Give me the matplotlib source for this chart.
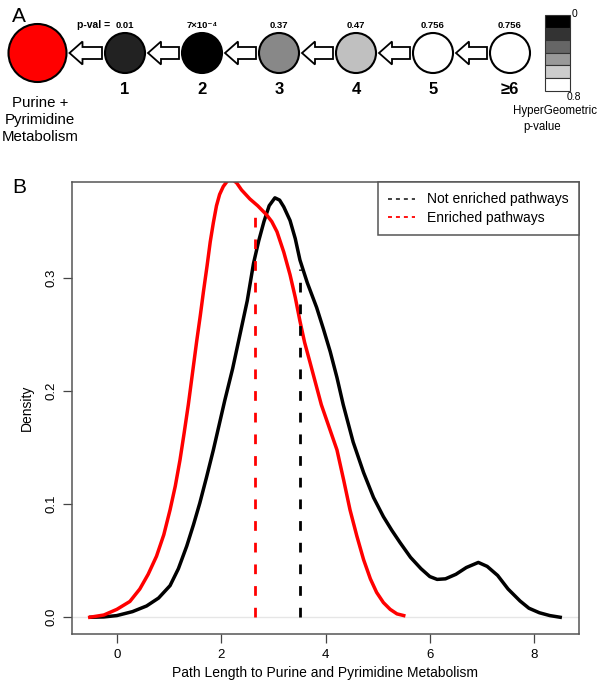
import numpy as np
import matplotlib
matplotlib.use('Agg')
import matplotlib.pyplot as plt
from matplotlib.patches import Circle, Polygon, Rectangle
from matplotlib.lines import Line2D

plt.rcParams['font.family'] = ['Liberation Sans', 'DejaVu Sans']

# ---- panel A data ----
node_labels = ['1', '2', '3', '4', '5', '≥6']
pval_labels = ['0.01', '7×10⁻⁴', '0.37', '0.47', '0.756', '0.756']
node_fills = ['#222222', '#000000', '#888888', '#c0c0c0', '#ffffff', '#ffffff']
legend_bands = ['#000000', '#333333', '#666666', '#999999', '#cccccc', '#ffffff']

# ---- panel B data (density curves) ----
not_enriched_x = [-0.5, -0.25, 0.0, 0.3, 0.57, 0.8, 1.02, 1.18, 1.34, 1.47, 1.59, 1.72, 1.85,
                  1.96, 2.07, 2.22, 2.36, 2.5, 2.62, 2.72, 2.82, 2.92, 3.03, 3.12, 3.2,
                  3.32, 3.42, 3.51, 3.65, 3.83, 3.96, 4.09, 4.22, 4.34, 4.53, 4.73, 4.92,
                  5.11, 5.27, 5.43, 5.63, 5.83, 6.0, 6.14, 6.3, 6.5, 6.7, 6.93, 7.1, 7.3,
                  7.5, 7.73, 7.9, 8.1, 8.3, 8.5]
not_enriched_y = [0.0, 0.0003, 0.0015, 0.005, 0.010, 0.017, 0.028, 0.043, 0.063, 0.082,
                  0.101, 0.124, 0.148, 0.170, 0.192, 0.220, 0.250, 0.280, 0.313, 0.333,
                  0.350, 0.364, 0.371, 0.369, 0.363, 0.351, 0.335, 0.316, 0.296, 0.274,
                  0.255, 0.235, 0.212, 0.188, 0.155, 0.128, 0.106, 0.089, 0.077, 0.066,
                  0.053, 0.043, 0.036, 0.0335, 0.034, 0.038, 0.044, 0.0485, 0.045, 0.037,
                  0.025, 0.0144, 0.008, 0.004, 0.0015, 0.0]
enriched_x = [-0.52, -0.25, 0.0, 0.25, 0.44, 0.6, 0.76, 0.9, 1.02, 1.12, 1.21, 1.29, 1.37,
              1.45, 1.53, 1.6, 1.66, 1.73, 1.79, 1.85, 1.91, 1.97, 2.04, 2.12, 2.2, 2.3,
              2.39, 2.47, 2.55, 2.7, 2.87, 2.97, 3.07, 3.2, 3.32, 3.42, 3.51, 3.6, 3.7,
              3.81, 3.92, 4.07, 4.22, 4.35, 4.47, 4.6, 4.73, 4.86, 4.98, 5.11, 5.24,
              5.37, 5.5]
enriched_y = [0.0, 0.002, 0.007, 0.014, 0.025, 0.038, 0.054, 0.073, 0.095, 0.116, 0.139,
              0.163, 0.188, 0.216, 0.244, 0.267, 0.288, 0.311, 0.332, 0.349, 0.364, 0.374,
              0.381, 0.386, 0.388, 0.384, 0.378, 0.374, 0.370, 0.364, 0.356, 0.350, 0.341,
              0.323, 0.303, 0.283, 0.262, 0.243, 0.226, 0.207, 0.188, 0.168, 0.148, 0.121,
              0.095, 0.072, 0.051, 0.034, 0.022, 0.013, 0.007, 0.003, 0.0015]
enriched_mean = 2.65
not_enriched_mean = 3.51
legend_labels = ['Not enriched pathways', 'Enriched pathways']

W, H = 600, 682
fig = plt.figure(figsize=(W / 100, H / 100), dpi=100)

# ---------------- panel A: pixel-coordinate canvas ----------------
axa = fig.add_axes([0, 0, 1, 1])
axa.set_xlim(0, W)
axa.set_ylim(H, 0)
axa.axis('off')

axa.text(12, 22, 'A', fontsize=15, ha='left', va='baseline')

cy = 53
axa.add_patch(Circle((37.5, cy), 29, facecolor='#ff0000', edgecolor='black', lw=1.5))
for i, line in enumerate(['Purine +', 'Pyrimidine', 'Metabolism']):
    axa.text(40, 103 + 17 * i, line, fontsize=10.8, ha='center', va='center')

xs = [125 + 77 * i for i in range(len(node_labels))]
r = 20
prev_right = 37.5 + 29
for x0, lab, pv, fc in zip(xs, node_labels, pval_labels, node_fills):
    axa.add_patch(Circle((x0, cy), r, facecolor=fc, edgecolor='black', lw=1.5))
    axa.text(x0, 90, lab, fontsize=12, fontweight='bold', ha='center', va='center')
    axa.text(x0, 25, pv, fontsize=6.8, fontweight='bold', ha='center', va='center')
    # hollow arrow pointing left
    tip = prev_right + 3
    tail = x0 - r - 3
    hb = tip + 13
    arrow = [(tip, cy), (hb, cy - 11.5), (hb, cy - 6), (tail, cy - 6),
             (tail, cy + 6), (hb, cy + 6), (hb, cy + 11.5)]
    axa.add_patch(Polygon(arrow, closed=True, facecolor='white', edgecolor='black', lw=1.3))
    prev_right = x0 + r
axa.text(94, 25, 'p-val =', fontsize=7.5, fontweight='bold', ha='center', va='center')

# grey scale key
band_h = (90.7 - 15) / len(legend_bands)
for k, c in enumerate(legend_bands):
    axa.add_patch(Rectangle((545, 15 + k * band_h), 25, band_h, facecolor=c,
                            edgecolor='#333333', lw=0.8))
axa.text(572, 14, '0', fontsize=7.5, ha='left', va='center')
axa.text(567, 97, '0.8', fontsize=7.5, ha='left', va='center')
axa.text(555, 111, 'HyperGeometric', fontsize=8.3, ha='center', va='center')
axa.text(542, 127, 'p-value', fontsize=8.3, ha='center', va='center')

# ---------------- panel B ----------------
fig.text(12 / W, 1 - 193 / H, 'B', fontsize=15, ha='left', va='baseline')

ax = fig.add_axes([72 / W, 1 - 634 / H, (579 - 72) / W, (634 - 182) / H])
ax.axhline(0, color='#e6e6e6', lw=1)
ax.plot(not_enriched_x, not_enriched_y, color='black', lw=2.5, solid_joinstyle='round')
ax.plot(enriched_x, enriched_y, color='red', lw=2.5, solid_joinstyle='round')
ax.vlines(enriched_mean, 0, np.interp(enriched_mean, enriched_x, enriched_y) - 0.004,
          color='red', lw=2, linestyles=(0, (3.5, 4.3)))
ax.vlines(not_enriched_mean, 0, np.interp(not_enriched_mean, not_enriched_x, not_enriched_y) - 0.008,
          color='black', lw=2, linestyles=(0, (3.5, 4.3)))

ax.set_xlim(-0.86, 8.86)
ax.set_ylim(-0.0148, 0.385)
ax.set_xticks([0, 2, 4, 6, 8])
ax.set_yticks([0.0, 0.1, 0.2, 0.3])
ax.set_yticklabels(['0.0', '0.1', '0.2', '0.3'])
ax.tick_params(length=6.5, width=0.9, color='#444444', labelsize=9.5, pad=4)
plt.setp(ax.get_yticklabels(), rotation=90, va='center')
for s in ax.spines.values():
    s.set_color('#555555')
    s.set_linewidth(1.1)
ax.set_xlabel('Path Length to Purine and Pyrimidine Metabolism', fontsize=10, labelpad=4)
ax.set_ylabel('Density', fontsize=10, labelpad=8)

handles = [Line2D([], [], color='#333333', lw=1.3, ls=(0, (2.2, 2.2))),
           Line2D([], [], color='red', lw=1.3, ls=(0, (2.2, 2.2)))]
leg = ax.legend(handles, legend_labels, loc='upper right', bbox_to_anchor=(1, 1),
                borderaxespad=0, fancybox=False, framealpha=1, edgecolor='#555555',
                fontsize=10, handlelength=1.95, handletextpad=0.85, borderpad=0.75,
                labelspacing=0.3)
leg.get_frame().set_linewidth(1.1)

fig.savefig('out.png', dpi=100)
